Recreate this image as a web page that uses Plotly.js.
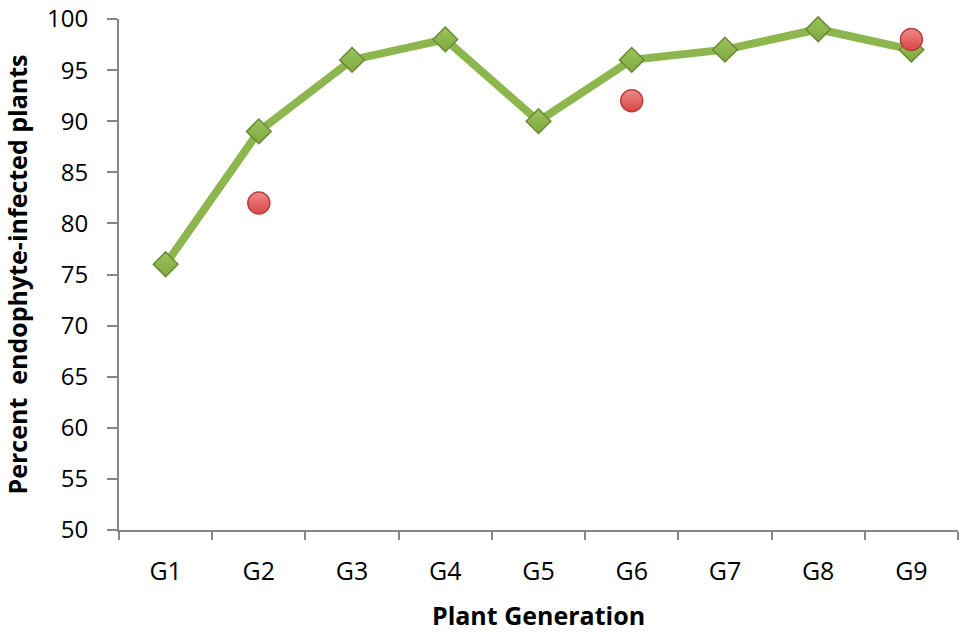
<!DOCTYPE html>
<html>
<head>
<meta charset="utf-8">
<script src="https://cdn.plot.ly/plotly-3.0.1.min.js"></script>
<style>
  html, body { margin: 0; padding: 0; background: #fff; }
  #chart { width: 965px; height: 632px; }
</style>
</head>
<body>
<div id="chart"></div>
<script>
// values
var generations = ['G1', 'G2', 'G3', 'G4', 'G5', 'G6', 'G7', 'G8', 'G9'];
var infected = [76, 89, 96, 98, 90, 96, 97, 99, 97];
var checkGens = ['G2', 'G6', 'G9'];
var checkVals = [82, 92, 98];
var yTicks = [50, 55, 60, 65, 70, 75, 80, 85, 90, 95, 100];

var trace1 = {
  x: generations,
  y: infected,
  type: 'scatter',
  mode: 'lines+markers',
  line: { color: '#8EB64E', width: 8 },
  marker: {
    symbol: 'diamond',
    size: 19,
    color: '#9CC45C',
    gradient: { type: 'vertical', color: '#7FA83F' },
    line: { color: '#6A8A37', width: 1.5 }
  },
  cliponaxis: false,
  hoverinfo: 'x+y'
};

var trace2 = {
  x: checkGens,
  y: checkVals,
  type: 'scatter',
  mode: 'markers',
  marker: {
    symbol: 'circle',
    size: 22,
    color: '#F08A8A',
    gradient: { type: 'vertical', color: '#D84646' },
    line: { color: '#B8403D', width: 1.5 }
  },
  cliponaxis: false,
  hoverinfo: 'x+y'
};

var layout = {
  width: 965,
  height: 632,
  margin: { l: 119, r: 7, t: 19, b: 102 },
  showlegend: false,
  paper_bgcolor: '#fff',
  plot_bgcolor: '#fff',
  font: { family: 'Open Sans, sans-serif', color: '#000', size: 25 },
  xaxis: {
    type: 'category',
    range: [-0.5, 8.5],
    showline: true,
    linecolor: '#868686',
    linewidth: 2,
    ticks: 'outside',
    tickson: 'boundaries',
    ticklen: 8,
    tickcolor: '#868686',
    tickwidth: 2,
    showgrid: false,
    zeroline: false,
    ticklabelstandoff: 18,
    tickfont: { family: 'Open Sans, sans-serif', size: 25, color: '#000' },
    title: {
      text: '<b>Plant Generation</b>',
      font: { family: 'Open Sans, sans-serif', size: 25, color: '#000' },
      standoff: 22
    }
  },
  yaxis: {
    range: [50, 100],
    tickvals: yTicks,
    showline: true,
    linecolor: '#868686',
    linewidth: 2,
    ticks: 'outside',
    ticklen: 10,
    tickcolor: '#868686',
    tickwidth: 2,
    showgrid: false,
    zeroline: false,
    ticklabelstandoff: 14,
    ticklabeloverflow: 'allow',
    tickfont: { family: 'Open Sans, sans-serif', size: 24, color: '#000' },
    title: {
      text: '<b>Percent  endophyte-infected plants</b>',
      font: { family: 'Open Sans, sans-serif', size: 25, color: '#000' },
      standoff: 12
    }
  }
};

Plotly.newPlot('chart', [trace1, trace2], layout, { displayModeBar: false });
</script>
</body>
</html>
